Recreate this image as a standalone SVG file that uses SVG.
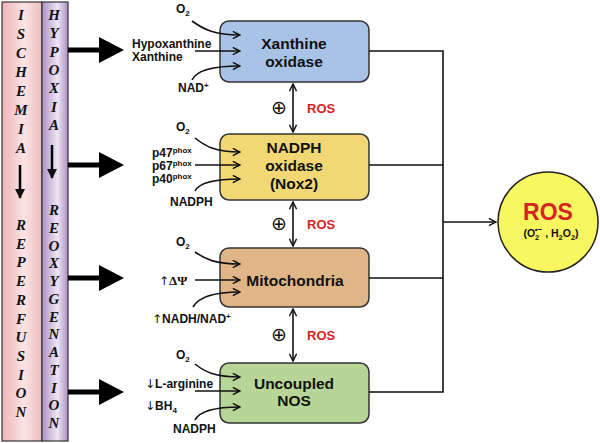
<svg xmlns="http://www.w3.org/2000/svg" width="600" height="443" viewBox="0 0 600 443">
<defs>
<linearGradient id="gPink" x1="0" y1="0" x2="1" y2="0">
<stop offset="0" stop-color="#efb3b6"/><stop offset="0.55" stop-color="#fbe4e5"/><stop offset="1" stop-color="#f0bcbe"/>
</linearGradient>
<linearGradient id="gPurple" x1="0" y1="0" x2="1" y2="0">
<stop offset="0" stop-color="#ad93c5"/><stop offset="0.6" stop-color="#efe5f4"/><stop offset="1" stop-color="#ab90c2"/>
</linearGradient>
<marker id="open" viewBox="0 0 10 10" refX="9" refY="5" markerWidth="9" markerHeight="9" markerUnits="userSpaceOnUse" orient="auto-start-reverse">
<path d="M1,1 L9,5 L1,9" fill="none" stroke="#111" stroke-width="1.6"/>
</marker>
<marker id="solid" viewBox="0 0 10 10" refX="5" refY="9" markerWidth="10" markerHeight="11" markerUnits="userSpaceOnUse" orient="0">
<path d="M0,0 L10,0 L5,10 Z" fill="#111"/>
</marker>
</defs>
<style>
.bar{stroke:#333;stroke-width:1.2}
.vl{font-family:"Liberation Serif",serif;font-weight:bold;font-style:italic;font-size:15px;fill:#111;text-anchor:middle}
.node{stroke:#333;stroke-width:1.5}
.nt{font-family:"Liberation Sans",Arial,sans-serif;font-weight:bold;font-size:15.5px;fill:#111;text-anchor:middle}
.in{font-family:"Liberation Sans",Arial,sans-serif;font-weight:bold;font-size:12px;fill:#111}
.sym{font-family:"DejaVu Sans",sans-serif;font-weight:normal}
.serif{font-family:"Liberation Serif",serif}
.ros{font-family:"Liberation Sans",Arial,sans-serif;font-weight:bold;font-size:13px;fill:#d42424}
.plus{font-family:"DejaVu Sans",sans-serif;font-size:19px;fill:#111;text-anchor:middle}
.ln{fill:none;stroke:#111;stroke-width:1.6}
.arr{fill:none;stroke:#111;stroke-width:1.6;marker-end:url(#open)}
.dbl{fill:none;stroke:#111;stroke-width:1.6;marker-start:url(#open);marker-end:url(#open)}
.big{fill:#000}
.down{stroke:#000;stroke-width:2.5;marker-end:url(#solid)}
</style>
<g id="bars">
<rect class="bar" x="2" y="2" width="40" height="439" fill="url(#gPink)"/>
<rect class="bar" x="42" y="2" width="26" height="439" fill="url(#gPurple)"/>
<text class="vl"><tspan x="21" y="20">I</tspan><tspan x="21" y="39">S</tspan><tspan x="21" y="58">C</tspan><tspan x="21" y="77">H</tspan><tspan x="21" y="96">E</tspan><tspan x="21" y="115">M</tspan><tspan x="21" y="134">I</tspan><tspan x="21" y="153">A</tspan></text>
<line class="down" x1="20" y1="165" x2="20" y2="198"/>
<text class="vl"><tspan x="21" y="230">R</tspan><tspan x="21" y="248.7">E</tspan><tspan x="21" y="267.4">P</tspan><tspan x="21" y="286.1">E</tspan><tspan x="21" y="304.8">R</tspan><tspan x="21" y="323.5">F</tspan><tspan x="21" y="342.2">U</tspan><tspan x="21" y="360.9">S</tspan><tspan x="21" y="379.6">I</tspan><tspan x="21" y="398.3">O</tspan><tspan x="21" y="417">N</tspan></text>
<text class="vl"><tspan x="54" y="20">H</tspan><tspan x="54" y="38.3">Y</tspan><tspan x="54" y="56.7">P</tspan><tspan x="54" y="75">O</tspan><tspan x="54" y="93.3">X</tspan><tspan x="54" y="111.7">I</tspan><tspan x="54" y="130">A</tspan></text>
<line class="down" x1="52" y1="145" x2="52" y2="178"/>
<text class="vl"><tspan x="54" y="215">R</tspan><tspan x="54" y="232.75">E</tspan><tspan x="54" y="250.5">O</tspan><tspan x="54" y="268.25">X</tspan><tspan x="54" y="286">Y</tspan><tspan x="54" y="303.75">G</tspan><tspan x="54" y="321.5">E</tspan><tspan x="54" y="339.25">N</tspan><tspan x="54" y="357">A</tspan><tspan x="54" y="374.75">T</tspan><tspan x="54" y="392.5">I</tspan><tspan x="54" y="410.25">O</tspan><tspan x="54" y="428">N</tspan></text>
</g>
<g id="big-arrows">
<polygon class="big" points="68,47.5 99,47.5 99,37 124,50 99,63 99,52.5 68,52.5"/>
<polygon class="big" points="68,162.5 99,162.5 99,152 124,165 99,178 99,167.5 68,167.5"/>
<polygon class="big" points="68,275.5 99,275.5 99,265 124,278 99,291 99,280.5 68,280.5"/>
<polygon class="big" points="68,389.5 99,389.5 99,379 124,392 99,405 99,394.5 68,394.5"/>
</g>
<g id="node-xo">
<rect class="node" x="220" y="21" width="149" height="61" rx="9" fill="#a9c3e6"/>
<text class="nt" x="294" y="49">Xanthine</text>
<text class="nt" x="294" y="67">oxidase</text>
<text class="in" x="176" y="13">O<tspan font-size="8" dy="3">2</tspan></text>
<text class="in" x="132" y="47.5">Hypoxanthine</text>
<text class="in" x="132" y="60.5">Xanthine</text>
<text class="in" x="178" y="92">NAD<tspan font-size="8" dy="-4">+</tspan></text>
</g>
<g id="node-nox">
<rect class="node" x="220" y="134" width="149" height="66" rx="9" fill="#f1d874"/>
<text class="nt" x="294" y="152.5">NADPH</text>
<text class="nt" x="294" y="170.5">oxidase</text>
<text class="nt" x="294" y="188.5">(Nox2)</text>
<text class="in" x="176" y="131">O<tspan font-size="8" dy="3">2</tspan></text>
<text class="in" x="152" y="156.5">p47<tspan font-size="8" dy="-3.5">phox</tspan></text>
<text class="in" x="152" y="169.5">p67<tspan font-size="8" dy="-3.5">phox</tspan></text>
<text class="in" x="152" y="182.5">p40<tspan font-size="8" dy="-3.5">phox</tspan></text>
<text class="in" x="170" y="205.5">NADPH</text>
</g>
<g id="node-mito">
<rect class="node" x="220" y="248" width="149" height="59" rx="9" fill="#e0b587"/>
<text class="nt" x="295" y="285.5">Mitochondria</text>
<text class="in" x="176" y="246">O<tspan font-size="8" dy="3">2</tspan></text>
<text class="in" x="159" y="284.5"><tspan class="sym">↑</tspan><tspan class="serif" font-size="13">ΔΨ</tspan></text>
<text class="in" x="152" y="322.5"><tspan class="sym">↑</tspan>NADH/NAD<tspan font-size="8" dy="-4">+</tspan></text>
</g>
<g id="node-nos">
<rect class="node" x="220" y="363" width="149" height="60" rx="9" fill="#b6d596"/>
<text class="nt" x="294" y="388.5">Uncoupled</text>
<text class="nt" x="294" y="405.5">NOS</text>
<text class="in" x="176" y="359">O<tspan font-size="8" dy="3">2</tspan></text>
<text class="in" x="145" y="387.5"><tspan class="sym">↓</tspan>L-arginine</text>
<text class="in" x="145" y="409.5"><tspan class="sym">↓</tspan>BH<tspan font-size="8" dy="3">4</tspan></text>
<text class="in" x="173" y="432.5">NADPH</text>
</g>
<g id="node-ros">
<circle cx="548" cy="222" r="50" fill="#f9f75f" stroke="#222" stroke-width="1.5"/>
<text x="548" y="220" text-anchor="middle" font-family="Liberation Sans, Arial, sans-serif" font-weight="bold" font-size="23" fill="#d42424">ROS</text>
<text x="551" y="237" text-anchor="middle" font-family="Liberation Sans, Arial, sans-serif" font-weight="bold" font-size="10.5" fill="#111">(O<tspan font-size="7.5" dy="3">2</tspan><tspan font-size="8" dx="-4.5" dy="-8">•−</tspan><tspan dy="5"> , H</tspan><tspan font-size="7.5" dy="3">2</tspan><tspan dy="-3">O</tspan><tspan font-size="7.5" dy="3">2</tspan><tspan dy="-3">)</tspan></text>
</g>
<g id="ros-labels">
<text class="plus" x="279" y="114">⊕</text>
<text class="ros" x="307" y="112.5">ROS</text>
<text class="plus" x="279" y="230">⊕</text>
<text class="ros" x="307" y="229">ROS</text>
<text class="plus" x="279" y="341">⊕</text>
<text class="ros" x="307" y="340">ROS</text>
</g>
<g id="connectors">
<path class="arr" d="M192,21 C203,29 214,35 240,35"/>
<path class="arr" d="M195,51 L240,51"/>
<path class="arr" d="M192,80 C196,71 210,66 240,66"/>
<path class="arr" d="M195,138 C205,146 215,152 240,152"/>
<path class="arr" d="M195,165 L240,165"/>
<path class="arr" d="M195,191 C199,183 212,179 240,179"/>
<path class="arr" d="M195,252 C205,259 215,264 240,264"/>
<path class="arr" d="M195,280 L240,280"/>
<path class="arr" d="M193,307 C198,298 212,292 240,292"/>
<path class="arr" d="M195,364 C205,372 215,377 240,377"/>
<path class="arr" d="M195,391 L240,391"/>
<path class="arr" d="M195,420 C199,412 212,407 240,407"/>
<path class="dbl" d="M293,84 L293,132"/>
<path class="dbl" d="M293,202 L293,246"/>
<path class="dbl" d="M293,309 L293,361"/>
<path class="ln" d="M369,51 H443 M369,165 H443 M369,278 H443 M369,392 H443 M443,50.2 V392.8"/>
<path class="arr" d="M443,222 L496,222"/>
</g>
</svg>
